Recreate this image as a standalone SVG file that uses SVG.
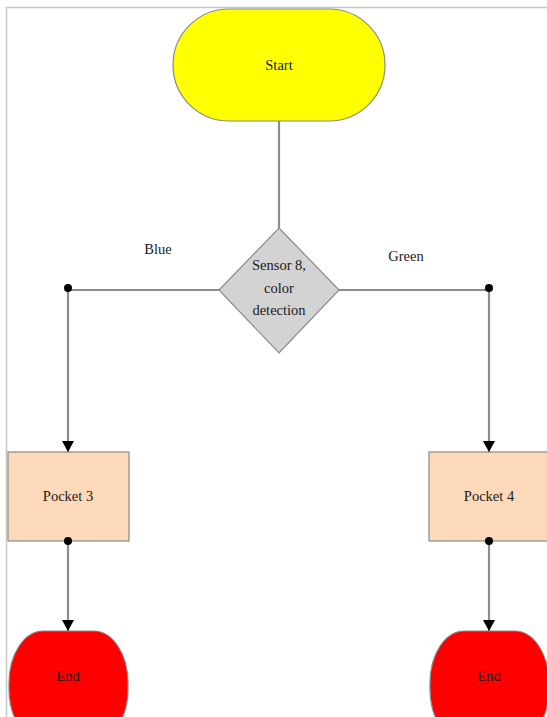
<svg xmlns="http://www.w3.org/2000/svg" width="547" height="717" viewBox="0 0 547 717">
<style>
text{font-family:'Liberation Serif','Times New Roman',Times,serif;font-size:14.5px;fill:#1a1a1a;text-anchor:middle}
.node{stroke:#8a8a8a;stroke-width:1.2}
.conn{stroke:#8c8c8c;stroke-width:2.2;fill:none}
.dot{fill:#000}
</style>
<defs>
<marker id="arr" markerWidth="12" markerHeight="12" refX="11" refY="6" orient="auto" markerUnits="userSpaceOnUse" viewBox="0 0 12 12">
<path d="M0,0 L11,6 L0,12 Z" fill="#000"/>
</marker>
</defs>
<rect width="547" height="717" fill="#fff"/>
<path d="M6.5,717 V7.5 H547" fill="none" stroke="#c8c8c8" stroke-width="1.5"/>
<g id="start">
<rect class="node" x="173" y="9" width="212" height="112" rx="56" ry="56" fill="#ffff00"/>
<text x="279" y="70">Start</text>
</g>
<g id="sensor">
<polygon class="node" points="279,228 339,290 279,353 219,290" fill="#d3d3d3"/>
<text x="279" y="270">Sensor 8,</text>
<text x="279" y="293">color</text>
<text x="279" y="315">detection</text>
</g>
<g id="pocket3">
<rect class="node" x="8" y="452" width="121" height="89" fill="#fbd9b9"/>
<text x="68" y="501">Pocket 3</text>
</g>
<g id="pocket4">
<rect class="node" x="429" y="452" width="121" height="89" fill="#fbd9b9"/>
<text x="489" y="501">Pocket 4</text>
</g>
<g id="end3">
<rect class="node" x="9" y="631" width="119" height="110" rx="34" ry="52" fill="#ff0000"/>
<text x="68" y="681">End</text>
</g>
<g id="end4">
<rect class="node" x="430" y="631" width="119" height="110" rx="34" ry="52" fill="#ff0000"/>
<text x="489" y="681">End</text>
</g>
<g id="connectors">
<line class="conn" x1="279" y1="121" x2="279" y2="228"/>
<polyline class="conn" points="219,290 68,290 68,452" marker-end="url(#arr)"/>
<polyline class="conn" points="339,290 489,290 489,452" marker-end="url(#arr)"/>
<line class="conn" x1="68" y1="541" x2="68" y2="631" marker-end="url(#arr)"/>
<line class="conn" x1="489" y1="541" x2="489" y2="631" marker-end="url(#arr)"/>
<circle class="dot" cx="68" cy="288" r="4"/>
<circle class="dot" cx="489" cy="288" r="4"/>
<circle class="dot" cx="68" cy="541" r="4"/>
<circle class="dot" cx="489" cy="541" r="4"/>
<text x="158" y="254">Blue</text>
<text x="406" y="261">Green</text>
</g>
</svg>
